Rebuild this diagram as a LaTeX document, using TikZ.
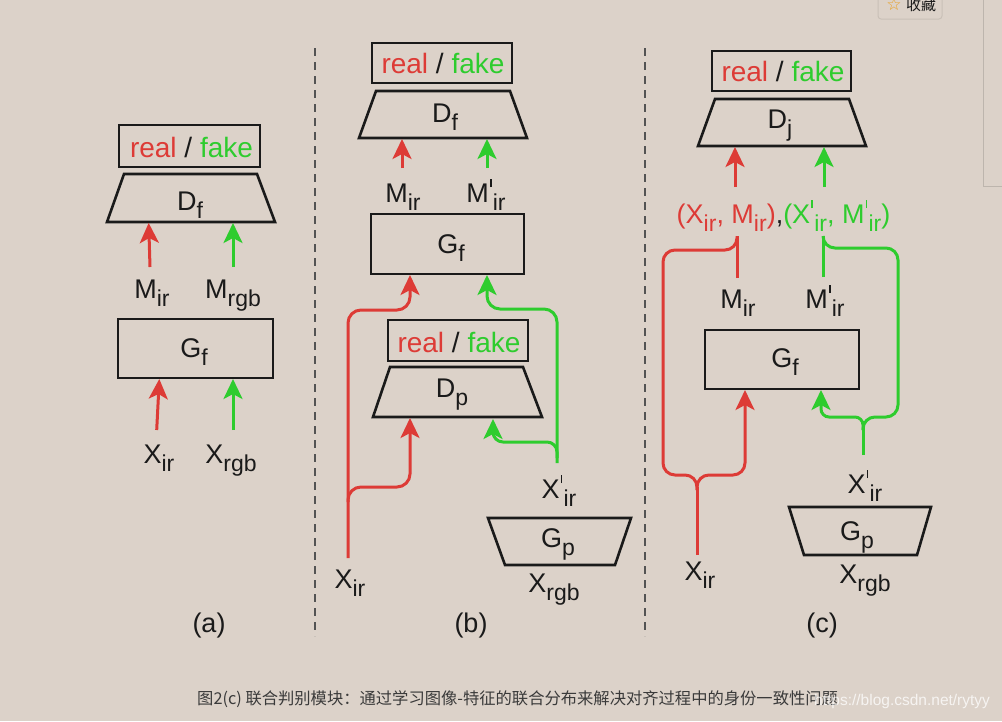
\documentclass[tikz,border=0pt]{standalone}
\usepackage{fontspec}
\usepackage{graphicx}
\setmainfont{Liberation Sans}
\newfontfamily\cjk{Noto Sans CJK SC}
\newfontfamily\dejavu{DejaVu Sans}
\usetikzlibrary{arrows.meta}
\definecolor{bg}{HTML}{DCD2C9}
\definecolor{cred}{HTML}{DD3B36}
\definecolor{cgreen}{HTML}{2ECC2E}
\definecolor{ink}{HTML}{1A1A1A}
\definecolor{capc}{HTML}{3A3A3A}
\definecolor{btn}{HTML}{C9C0B7}
\definecolor{edgec}{HTML}{BDB5AD}
\definecolor{starc}{HTML}{E8A020}
\newcommand\sub[1]{\raisebox{-0.3em}{\fontsize{23}{23}\selectfont #1}}
\newcommand\pr{\kern1pt\rlap{\rule[15pt]{1.8pt}{8pt}}\kern3pt}
\tikzset{
  lbl/.style={font=\fontsize{27}{27}\selectfont, text=ink, anchor=base, inner sep=0pt},
  rftext/.style={font=\fontsize{28}{28}\selectfont, text=ink, anchor=base, inner sep=0pt},
  gbox/.style={draw=ink, line width=2.6pt, inner sep=0pt},
  trap/.style={draw=ink, line width=2.6pt, line join=miter},
  rl/.style={draw=cred, line width=3pt},
  gl/.style={draw=cgreen, line width=3pt},
  tip/.style={-{Stealth[length=20pt,width=19pt,inset=5pt]}},
  divider/.style={draw=ink!75, line width=2pt, dash pattern=on 8pt off 6pt},
}
\begin{document}
\begin{tikzpicture}[x=1pt,y=-1pt]
\useasboundingbox (0,0) rectangle (1002,721);
\fill[bg] (0,0) rectangle (1002,721);

% ---------- panel (a) ----------
\node[gbox, minimum width=141pt, minimum height=42pt] (aRF) at (189.5,146) {};
\node[rftext] (aRFt) at (191.5,157) {\textcolor{cred}{real} / \textcolor{cgreen}{fake}};
\draw[trap] (124,174) -- (257,174) -- (275,222) -- (107,222) -- cycle;
\node[lbl] (aD) at (190,210) {D\sub{f}};
\node[lbl] (aMir) at (152,298) {M\sub{ir}};
\node[lbl] (aMrgb) at (233,298) {M\sub{rgb}};
\node[gbox, minimum width=155pt, minimum height=59pt] (aG) at (195.5,348.5) {};
\node[lbl] (aGt) at (194,357) {G\sub{f}};
\node[lbl] (aXir) at (159,463) {X\sub{ir}};
\node[lbl] (aXrgb) at (231,463) {X\sub{rgb}};
\node[lbl] (acap) at (209,632) {(a)};
\coordinate (aA1s) at (150,267);   \coordinate (aA1e) at (148.7,223);
\coordinate (aA2s) at (233,267);   \coordinate (aA2e) at (233,223);
\coordinate (aA3s) at (156.7,430); \coordinate (aA3e) at (159.3,379);
\coordinate (aA4s) at (233,430);   \coordinate (aA4e) at (233,379);
\draw[rl,tip] (aA1s) -- (aA1e);
\draw[gl,tip] (aA2s) -- (aA2e);
\draw[rl,tip] (aA3s) -- (aA3e);
\draw[gl,tip] (aA4s) -- (aA4e);

% dividers
\coordinate (d1t) at (315,48); \coordinate (d1b) at (315,636);
\coordinate (d2t) at (645,48); \coordinate (d2b) at (645,636);
\draw[divider] (d1t) -- (d1b);
\draw[divider] (d2t) -- (d2b);

% ---------- panel (b) ----------
\node[gbox, minimum width=140pt, minimum height=40pt] (bRF) at (442,63) {};
\node[rftext] (bRFt) at (443,73) {\textcolor{cred}{real} / \textcolor{cgreen}{fake}};
\draw[trap] (376,91) -- (510,91) -- (527,138) -- (359,138) -- cycle;
\node[lbl] (bD) at (445,122) {D\sub{f}};
\node[lbl] (bMir) at (403,202) {M\sub{ir}};
\node[lbl] (bMpir) at (486,202) {M\pr\sub{ir}};
\node[gbox, minimum width=153pt, minimum height=60pt] (bG) at (447.5,244) {};
\node[lbl] (bGt) at (451,253) {G\sub{f}};
\node[gbox, minimum width=140pt, minimum height=41pt] (bRF2) at (458,340.5) {};
\node[rftext] (bRF2t) at (459,352) {\textcolor{cred}{real} / \textcolor{cgreen}{fake}};
\draw[trap] (390,367) -- (523,367) -- (542,417) -- (373,417) -- cycle;
\node[lbl] (bDp) at (452,397) {D\sub{p}};
\node[lbl] (bXir) at (350,588) {X\sub{ir}};
\node[lbl] (bXpir) at (559,498) {X\pr\sub{ir}};
\draw[trap] (488,518) -- (631,518) -- (615,565) -- (505,565) -- cycle;
\node[lbl] (bGp) at (558,547) {G\sub{p}};
\node[lbl] (bXrgb) at (554,592) {X\sub{rgb}};
\node[lbl] (bcap) at (471,632) {(b)};
\coordinate (bB1s) at (402,168); \coordinate (bB1e) at (402,139);
\coordinate (bB2s) at (487,168); \coordinate (bB2e) at (487,139);
\draw[rl,tip] (bB1s) -- (bB1e);
\draw[gl,tip] (bB2s) -- (bB2e);
\coordinate (bRs) at (348,558);  \coordinate (bRe) at (410,275);
\coordinate (bRbs) at (348,502); \coordinate (bRbe) at (410,418);
\draw[rl,tip,rounded corners=13pt] (bRs) -- (348,310) -- (410,310) -- (bRe);
\draw[rl,tip,rounded corners=13pt] (bRbs) -- (348,487) -- (410,487) -- (bRbe);
\coordinate (bGs) at (557,463);  \coordinate (bGe) at (487,275);
\coordinate (bGbs) at (557,458); \coordinate (bGbe) at (493,419);
\draw[gl,tip,rounded corners=13pt] (bGs) -- (557,309) -- (487,309) -- (bGe);
\draw[gl,tip,rounded corners=10pt] (bGbs) -- (557,442) -- (493,442) -- (bGbe);

% ---------- panel (c) ----------
\node[gbox, minimum width=139pt, minimum height=40pt] (cRF) at (781.5,71) {};
\node[rftext] (cRFt) at (783,81) {\textcolor{cred}{real} / \textcolor{cgreen}{fake}};
\draw[trap] (715,99) -- (849,99) -- (866,146) -- (698,146) -- cycle;
\node[lbl] (cD) at (780,128) {D\sub{j}};
\node[lbl] (cT) at (783.5,223) {\textcolor{cred}{(X\sub{ir}, M\sub{ir})},\textcolor{cgreen}{(X\pr\sub{ir}, M\pr\sub{ir})}};
\node[lbl] (cMir) at (738,308) {M\sub{ir}};
\node[lbl] (cMpir) at (825,308) {M\pr\sub{ir}};
\node[gbox, minimum width=154pt, minimum height=59pt] (cG) at (782,359.5) {};
\node[lbl] (cGt) at (785,367) {G\sub{f}};
\node[lbl] (cXir) at (700,580) {X\sub{ir}};
\node[lbl] (cXpir) at (865,493) {X\pr\sub{ir}};
\draw[trap] (789,507) -- (931,507) -- (917,555) -- (804,555) -- cycle;
\node[lbl] (cGp) at (857,540) {G\sub{p}};
\node[lbl] (cXrgb) at (865,583) {X\sub{rgb}};
\node[lbl] (ccap) at (822,632) {(c)};
\coordinate (cC1s) at (735,187); \coordinate (cC1e) at (735,147);
\coordinate (cC2s) at (824,187); \coordinate (cC2e) at (824,147);
\draw[rl,tip] (cC1s) -- (cC1e);
\draw[gl,tip] (cC2s) -- (cC2e);
% red brace system
\coordinate (cRm) at (737,278); \coordinate (cRt) at (737,236);
\coordinate (cRk) at (697,490); \coordinate (cRx) at (697,555);
\coordinate (cRg) at (745,390);
\draw[rl] (cRm) -- (cRt);
\draw[rl,rounded corners=12pt] (cRk) -- (697,475) -- (663,475) -- (663,250) -- (737,250) -- (cRt);
\draw[rl,tip,rounded corners=12pt] (cRk) -- (697,475) -- (745,475) -- (cRg);
\draw[rl] (cRx) -- (697,487);
% green brace system
\coordinate (cGm) at (823,277); \coordinate (cGt2) at (823,236);
\coordinate (cGk) at (863,430); \coordinate (cGx) at (863,455);
\coordinate (cGg) at (821,390);
\draw[gl] (cGm) -- (cGt2);
\draw[gl,rounded corners=12pt] (cGk) -- (863,417) -- (898,417) -- (898,248) -- (823,248) -- (cGt2);
\draw[gl,tip,rounded corners=8pt] (cGk) -- (863,417) -- (821,417) -- (cGg);
\draw[gl] (cGx) -- (863,428);

% ---------- page chrome ----------
\coordinate (e1) at (983,0); \coordinate (e2) at (983,186); \coordinate (e3) at (1002,186);
\draw[draw=edgec, line width=1pt] (e1) -- (e2) -- (e3);
\draw[draw=btn, line width=1pt, rounded corners=3pt] (878,-8) rectangle (942,19);
\node[font=\dejavu\fontsize{17}{17}\selectfont, text=starc, inner sep=0pt] (star) at (894,4) {☆};
\node[font=\cjk\fontsize{15}{15}\selectfont, text=ink, inner sep=0pt] (fav) at (921,5) {收藏};
\node[anchor=west, inner sep=0pt, font=\cjk\fontsize{16.3}{16.3}\selectfont, text=capc] (cap) at (197,699) {图2(c) 联合判别模块：通过学习图像-特征的联合分布来解决对齐过程中的身份一致性问题};
\node[anchor=west, inner sep=0pt, font=\fontsize{15.5}{15.5}\selectfont, text=white, opacity=0.75] (wm) at (814,701) {https://blog.csdn.net/rytyy};
\end{tikzpicture}
\end{document}
